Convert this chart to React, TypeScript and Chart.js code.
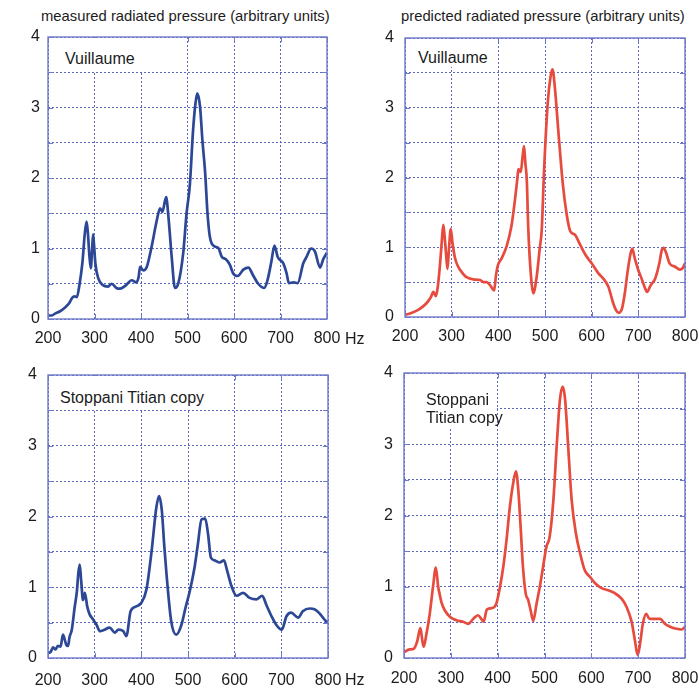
import React, { useEffect, useRef } from 'react';
import { Chart, registerables } from 'chart.js';

Chart.register(...registerables);

// ---------- data: [frequency Hz, radiated pressure (arbitrary units)] ----------
const measuredVuillaume: [number, number][] = [
  [200, 0.05], [208, 0.05], [216, 0.08], [226, 0.11], [236, 0.16], [245, 0.22], [252, 0.3], [257, 0.32],
  [262, 0.31], [268, 0.5], [274, 0.8], [279, 1.2], [283, 1.38], [286, 1.2], [289, 0.9], [292, 0.72],
  [295, 1.0], [297, 1.2], [299, 1.05], [302, 0.78], [308, 0.58], [318, 0.48], [329, 0.46], [337, 0.5],
  [347, 0.44], [355, 0.43], [366, 0.47], [380, 0.55], [390, 0.52], [395, 0.6], [398, 0.74], [405, 0.69],
  [412, 0.73], [423, 1.03], [434, 1.4], [441, 1.57], [446, 1.52], [454, 1.73], [459, 1.45], [466, 0.88],
  [473, 0.44], [480, 0.5], [491, 0.95], [498, 1.5], [505, 1.9], [512, 2.68], [517, 3.05], [521, 3.2],
  [527, 3.01], [532, 2.54], [538, 2.07], [543, 1.5], [548, 1.17], [558, 1.03], [566, 1.01], [574, 0.88],
  [582, 0.85], [591, 0.77], [598, 0.65], [608, 0.61], [620, 0.7], [631, 0.73], [641, 0.62], [652, 0.5],
  [665, 0.44], [672, 0.55], [680, 0.8], [687, 1.04], [694, 0.88], [706, 0.79], [713, 0.65], [718, 0.51],
  [728, 0.52], [737, 0.51], [749, 0.79], [756, 0.88], [766, 1.0], [774, 0.96], [785, 0.73], [792, 0.85],
  [800, 0.94],
];

const predictedVuillaume: [number, number][] = [
  [200, 0.03], [215, 0.06], [230, 0.11], [245, 0.19], [255, 0.28], [261, 0.36], [266, 0.3], [270, 0.42],
  [275, 0.75], [279, 1.1], [282, 1.32], [285, 1.15], [288, 0.9], [291, 0.69], [294, 0.95], [298, 1.26],
  [302, 1.05], [307, 0.85], [314, 0.72], [322, 0.64], [330, 0.58], [346, 0.54], [361, 0.53], [368, 0.5],
  [375, 0.5], [383, 0.45], [391, 0.38], [395, 0.6], [399, 0.74], [407, 0.84], [418, 1.02], [428, 1.3],
  [436, 1.7], [441, 2.0], [443, 2.12], [448, 2.08], [452, 2.3], [455, 2.45], [458, 2.2], [461, 1.96],
  [464, 1.3], [468, 0.77], [475, 0.34], [482, 0.57], [489, 1.0], [493, 1.25], [498, 2.1], [506, 3.08],
  [512, 3.45], [516, 3.55], [521, 3.3], [529, 2.63], [538, 1.92], [546, 1.49], [553, 1.25], [558, 1.2],
  [564, 1.18], [575, 1.04], [586, 0.9], [600, 0.77], [614, 0.63], [625, 0.55], [636, 0.43], [646, 0.2],
  [652, 0.1], [658, 0.06], [665, 0.12], [671, 0.34], [677, 0.65], [683, 0.9], [687, 0.98], [692, 0.85],
  [700, 0.67], [707, 0.55], [714, 0.42], [719, 0.36], [726, 0.45], [736, 0.55], [745, 0.77], [750, 0.95],
  [754, 0.99], [759, 0.93], [767, 0.77], [779, 0.72], [789, 0.68], [795, 0.7], [800, 0.77],
];

const measuredStoppani: [number, number][] = [
  [200, 0.07], [205, 0.08], [211, 0.15], [216, 0.12], [221, 0.17], [227, 0.16], [232, 0.33], [235, 0.28],
  [239, 0.19], [243, 0.17], [246, 0.29], [251, 0.4], [257, 0.71], [262, 0.95], [265, 1.2], [268, 1.32],
  [271, 1.1], [275, 0.82], [279, 0.92], [284, 0.73], [289, 0.62], [296, 0.55], [304, 0.47], [311, 0.38],
  [321, 0.4], [332, 0.43], [343, 0.36], [351, 0.4], [361, 0.38], [368, 0.31], [377, 0.66], [389, 0.73],
  [400, 0.78], [411, 0.97], [422, 1.51], [432, 2.12], [438, 2.29], [444, 2.08], [449, 1.6], [454, 1.18],
  [464, 0.52], [475, 0.33], [486, 0.47], [495, 0.72], [504, 0.95], [514, 1.28], [521, 1.6], [529, 1.96],
  [537, 1.97], [543, 1.75], [549, 1.42], [557, 1.38], [568, 1.35], [577, 1.38], [584, 1.23], [593, 1.02],
  [604, 0.88], [618, 0.92], [632, 0.85], [647, 0.83], [659, 0.88], [668, 0.75], [679, 0.59], [689, 0.47],
  [701, 0.4], [711, 0.59], [721, 0.64], [736, 0.57], [746, 0.66], [761, 0.7], [771, 0.69], [782, 0.63],
  [796, 0.52], [800, 0.51],
];

const predictedStoppani: [number, number][] = [
  [200, 0.08], [212, 0.12], [221, 0.13], [228, 0.23], [235, 0.42], [239, 0.25], [242, 0.16], [248, 0.34],
  [255, 0.62], [262, 1.0], [268, 1.27], [273, 1.0], [276, 0.9], [280, 0.78], [287, 0.67], [298, 0.58],
  [312, 0.53], [326, 0.51], [337, 0.48], [348, 0.55], [358, 0.6], [365, 0.55], [370, 0.51], [377, 0.68],
  [387, 0.7], [397, 0.76], [405, 1.0], [412, 1.28], [419, 1.66], [426, 2.12], [433, 2.45], [439, 2.62],
  [444, 2.36], [449, 1.84], [454, 1.28], [460, 0.9], [465, 0.82], [470, 0.68], [476, 0.52], [483, 0.76],
  [490, 1.0], [497, 1.28], [504, 1.56], [511, 1.7], [519, 2.22], [526, 2.97], [533, 3.63], [539, 3.81],
  [544, 3.63], [551, 2.92], [558, 2.22], [567, 1.75], [576, 1.47], [586, 1.23], [597, 1.14], [608, 1.05],
  [622, 0.98], [636, 0.95], [650, 0.91], [665, 0.83], [675, 0.72], [686, 0.51], [693, 0.25], [699, 0.04],
  [704, 0.2], [710, 0.48], [717, 0.62], [724, 0.55], [732, 0.55], [747, 0.55], [757, 0.48], [768, 0.44],
  [782, 0.41], [793, 0.4], [800, 0.44],
];

const xRange = [200, 800];
const xStep = 100;
const yRange = [0, 4];
const yStep = 0.5;

const titleMeasured = 'measured radiated pressure (arbitrary units)';
const titlePredicted = 'predicted radiated pressure (arbitrary units)';
const unitLabel = 'Hz';

// ---------- styling ----------
const BLUE = '#2c4795';
const RED = '#e64b3e';
const FRAME = 'rgb(112,122,202)';
const GRID = 'rgba(82,96,186,0.95)';
const TEXT = '#1c1c1c';
const FONT = '"Liberation Sans", Arial, Helvetica, sans-serif';

type PanelCfg = {
  data: [number, number][];
  color: string;
  L: number; R: number; T: number; B: number;
  xPad: number; yPad: number;
  label: { lines: string[]; boxL: number; boxT: number; boxW: number; boxH: number; textL: number; textT: number };
};

const AXW = 48;
const TOPPAD = 10;
const AXH = 44;

const framePlugin = {
  id: 'frameTicks',
  afterDraw(chart: any) {
    const { ctx, chartArea, scales } = chart;
    const { left, right, top, bottom } = chartArea;
    ctx.save();
    ctx.strokeStyle = FRAME;
    ctx.lineWidth = 1.4;
    ctx.setLineDash([]);
    ctx.strokeRect(left, top, right - left, bottom - top);
    ctx.lineWidth = 1;
    const tl = 5;
    scales.x.ticks.forEach((t: any) => {
      const px = Math.round(scales.x.getPixelForValue(t.value)) + 0.5;
      ctx.beginPath();
      ctx.moveTo(px, top); ctx.lineTo(px, top + tl);
      ctx.moveTo(px, bottom); ctx.lineTo(px, bottom - tl);
      ctx.stroke();
    });
    scales.y.ticks.forEach((t: any) => {
      const py = Math.round(scales.y.getPixelForValue(t.value)) + 0.5;
      ctx.beginPath();
      ctx.moveTo(left, py); ctx.lineTo(left + tl, py);
      ctx.moveTo(right, py); ctx.lineTo(right - tl, py);
      ctx.stroke();
    });
    ctx.restore();
  },
};

function Panel({ cfg }: { cfg: PanelCfg }) {
  const ref = useRef<HTMLCanvasElement>(null);
  const padR = cfg.R < 400 ? 20 : 699 - cfg.R;
  const w = cfg.R - cfg.L + AXW + padR;
  const h = cfg.B - cfg.T + TOPPAD + AXH;
  const left = cfg.L - AXW;
  const top = cfg.T - TOPPAD;

  useEffect(() => {
    const tickFont = { family: FONT, size: 16 };
    const chart = new Chart(ref.current as HTMLCanvasElement, {
      type: 'line',
      data: {
        datasets: [
          {
            data: cfg.data.map(([x, y]) => ({ x, y })),
            borderColor: cfg.color,
            borderWidth: 2.7,
            pointRadius: 0,
            cubicInterpolationMode: 'monotone',
            fill: false,
          } as any,
        ],
      },
      options: {
        responsive: false,
        maintainAspectRatio: false,
        animation: false,
        layout: { padding: { left: 0, top: TOPPAD, right: padR, bottom: 0 } },
        plugins: { legend: { display: false }, tooltip: { enabled: false }, title: { display: false } },
        scales: {
          x: {
            type: 'linear',
            min: xRange[0],
            max: xRange[1],
            ticks: {
              stepSize: xStep,
              padding: cfg.xPad,
              font: tickFont,
              color: TEXT,
              maxRotation: 0,
              autoSkip: false,
              callback: (v: any) => String(v),
            },
            grid: { color: GRID, lineWidth: 1, drawTicks: false },
            border: { display: false, dash: [2, 2] },
            afterFit: (s: any) => {
              s.height = AXH;
              s.paddingLeft = 0;
              s.paddingRight = 0;
            },
          },
          y: {
            min: yRange[0],
            max: yRange[1],
            ticks: {
              stepSize: yStep,
              padding: cfg.yPad,
              font: tickFont,
              color: TEXT,
              autoSkip: false,
              callback: (v: any) => (Number.isInteger(v) ? String(v) : ''),
            },
            grid: { color: GRID, lineWidth: 1, drawTicks: false },
            border: { display: false, dash: [2, 2] },
            afterFit: (s: any) => {
              s.width = AXW;
              s.paddingTop = 0;
              s.paddingBottom = 0;
            },
          },
        },
      } as any,
      plugins: [framePlugin],
    });
    return () => chart.destroy();
  }, []);

  const lb = cfg.label;
  return (
    <>
      <canvas
        ref={ref}
        width={w}
        height={h}
        style={{ position: 'absolute', left, top, width: w, height: h }}
      />
      <div
        style={{
          position: 'absolute',
          left: lb.boxL,
          top: lb.boxT,
          width: lb.boxW,
          height: lb.boxH,
          background: '#fff',
        }}
      />
      <div
        style={{
          position: 'absolute',
          left: lb.textL,
          top: lb.textT,
          font: `16px ${FONT}`,
          lineHeight: '18.5px',
          color: TEXT,
          whiteSpace: 'nowrap',
        }}
      >
        {lb.lines.map((l, i) => (
          <div key={i}>{l}</div>
        ))}
      </div>
    </>
  );
}

const panels: PanelCfg[] = [
  {
    data: measuredVuillaume, color: BLUE, L: 48, R: 327, T: 37, B: 319, xPad: 10, yPad: 8,
    label: { lines: ['Vuillaume'], boxL: 49, boxT: 38, boxW: 94, boxH: 34, textL: 65, textT: 50 },
  },
  {
    data: predictedVuillaume, color: RED, L: 405, R: 685, T: 38, B: 317, xPad: 10, yPad: 11,
    label: { lines: ['Vuillaume'], boxL: 406, boxT: 39, boxW: 92, boxH: 28, textL: 418, textT: 48.5 },
  },
  {
    data: measuredStoppani, color: BLUE, L: 48, R: 328, T: 375, B: 658, xPad: 13, yPad: 11,
    label: { lines: ['Stoppani Titian copy'], boxL: 49, boxT: 376, boxW: 165, boxH: 33, textL: 60, textT: 388.5 },
  },
  {
    data: predictedStoppani, color: RED, L: 404, R: 685, T: 373, B: 658, xPad: 11, yPad: 11,
    label: { lines: ['Stoppani', 'Titian copy'], boxL: 405, boxT: 374, boxW: 92, boxH: 54, textL: 426, textT: 390.5 },
  },
];

export default function App() {
  return (
    <div
      style={{
        position: 'fixed',
        left: 0,
        top: 0,
        width: 699,
        height: 689,
        background: '#fff',
        overflow: 'hidden',
        fontFamily: FONT,
      }}
    >
      <div style={{ position: 'absolute', left: 41, top: 7, font: `14.8px ${FONT}`, lineHeight: '18px', color: TEXT, whiteSpace: 'nowrap' }}>
        {titleMeasured}
      </div>
      <div style={{ position: 'absolute', left: 401, top: 7, font: `14.8px ${FONT}`, lineHeight: '18px', color: TEXT, whiteSpace: 'nowrap' }}>
        {titlePredicted}
      </div>
      {panels.map((p, i) => (
        <Panel key={i} cfg={p} />
      ))}
      <div style={{ position: 'absolute', left: 345, top: 328.5, font: `16px ${FONT}`, lineHeight: '19px', color: TEXT }}>
        {unitLabel}
      </div>
      <div style={{ position: 'absolute', left: 345, top: 669.5, font: `16px ${FONT}`, lineHeight: '19px', color: TEXT }}>
        {unitLabel}
      </div>
    </div>
  );
}
